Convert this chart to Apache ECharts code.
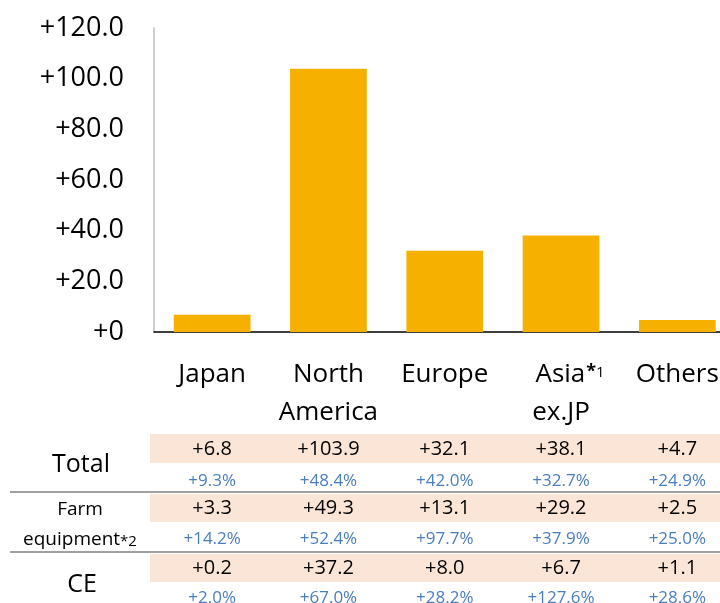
<!DOCTYPE html>
<html>
<head>
<meta charset="utf-8">
<script src="https://cdn.jsdelivr.net/npm/echarts@6/dist/echarts.min.js"></script>
<style>
html,body{margin:0;padding:0;background:#fff;overflow:hidden;width:720px;height:603px;}
#c{width:736px;height:603px;}
</style>
</head>
<body>
<div id="c"></div>
<script>
// ---- data ----
var categories = ['Japan', 'North\nAmerica', 'Europe', 'Asia*1\nex.JP', 'Others'];
var totalValues = [6.8, 103.9, 32.1, 38.1, 4.7];
var totalPct = [9.3, 48.4, 42.0, 32.7, 24.9];
var farmValues = [3.3, 49.3, 13.1, 29.2, 2.5];
var farmPct = [14.2, 52.4, 97.7, 37.9, 25.0];
var ceValues = [0.2, 37.2, 8.0, 6.7, 1.1];
var cePct = [2.0, 67.0, 28.2, 127.6, 28.6];
var yMin = 0, yMax = 120, yStep = 20;

var FONT = 'Open Sans';
var BAR = '#f5b000';
var PINK = '#fbe5d6';
var BLUE = '#4a7dc0';

function fmtVal(v){ return (v >= 0 ? '+' : '') + v.toFixed(1); }
function fmtPct(v){ return (v >= 0 ? '+' : '') + v.toFixed(1) + '%'; }

var chart = echarts.init(document.getElementById('c'), null, {renderer: 'canvas'});

var option = {
  animation: false,
  backgroundColor: '#fff',
  grid: {left: 154, top: 28, right: 0.5, bottom: 271, containLabel: false, outerBoundsMode: 'none'},
  xAxis: {
    type: 'category',
    data: categories,
    axisLine: {show: true, lineStyle: {color: '#000', width: 1.5}},
    axisTick: {show: false},
    axisLabel: {
      interval: 0,
      margin: 24,
      color: '#000',
      fontFamily: FONT,
      fontSize: 26,
      lineHeight: 38,
      hideOverlap: false,
      formatter: function (v) {
        if (v.indexOf('*1') >= 0) {
          var parts = v.split('\n');
          return '{p|' + parts[0].replace('*1', '') + '}{s|*}{t|1}\n{a|' + parts[1] + '}';
        }
        return v.split('\n').map(function (p) { return '{a|' + p + '}'; }).join('\n');
      },
      rich: {
        a: {fontFamily: FONT, fontSize: 26, lineHeight: 38, color: '#000'},
        p: {fontFamily: FONT, fontSize: 26, lineHeight: 38, color: '#000', padding: [0, 0, 0, 18]},
        s: {fontFamily: FONT, fontSize: 18, fontWeight: 'bold', lineHeight: 38, color: '#000', verticalAlign: 'top', padding: [7, 0, 0, 1]},
        t: {fontFamily: FONT, fontSize: 15, lineHeight: 38, color: '#000', verticalAlign: 'top', padding: [9, 0, 0, 0]}
      }
    }
  },
  yAxis: {
    type: 'value',
    min: yMin, max: yMax, interval: yStep,
    axisLine: {show: true, lineStyle: {color: '#bfbfbf', width: 1.5}},
    axisTick: {show: false},
    splitLine: {show: false},
    axisLabel: {
      margin: 30,
      color: '#000',
      fontFamily: FONT,
      fontSize: 27,
      formatter: function (v) { return v === 0 ? '+0' : '+' + v.toFixed(1); }
    }
  },
  series: [{
    type: 'bar',
    data: totalValues,
    barCategoryGap: '34%',
    itemStyle: {color: BAR},
    z: 1
  }]
};
chart.setOption(option);

// ---- table below the chart ----
var rows = [
  {vals: totalValues, pcts: totalPct, bandTop: 434, bandH: 29, valY: 449, pctY: 481},
  {vals: farmValues, pcts: farmPct, bandTop: 494, bandH: 28, valY: 508, pctY: 539},
  {vals: ceValues, pcts: cePct, bandTop: 554, bandH: 28, valY: 568, pctY: 598}
];
var g = [];
rows.forEach(function (r) {
  g.push({type: 'rect', shape: {x: 150, y: r.bandTop, width: 590, height: r.bandH}, style: {fill: PINK}, silent: true, z: 0});
  r.vals.forEach(function (v, i) {
    var x = chart.convertToPixel({xAxisIndex: 0}, i);
    g.push({type: 'text', x: x, y: r.valY, style: {text: fmtVal(v), fill: '#000', font: '20px "' + FONT + '"', textAlign: 'center', textVerticalAlign: 'middle'}, z: 2});
    g.push({type: 'text', x: x, y: r.pctY, style: {text: fmtPct(r.pcts[i]), fill: BLUE, font: '17px "' + FONT + '"', textAlign: 'center', textVerticalAlign: 'middle'}, z: 2});
  });
});
// separators
[492, 552].forEach(function (y) {
  g.push({type: 'line', shape: {x1: 10, y1: y, x2: 740, y2: y}, style: {stroke: '#808080', lineWidth: 1.5}, silent: true});
});
// row titles
g.push({type: 'text', x: 81, y: 465, style: {text: 'Total', fill: '#000', font: '25px "' + FONT + '"', textAlign: 'center', textVerticalAlign: 'middle'}});
g.push({type: 'text', x: 80, y: 510, style: {text: 'Farm', fill: '#000', font: '19px "' + FONT + '"', textAlign: 'center', textVerticalAlign: 'middle'}});
g.push({type: 'text', x: 80, y: 540, style: {
  text: '{a|equipment}{b|*2}', textAlign: 'center', textVerticalAlign: 'middle',
  rich: {a: {fontFamily: FONT, fontSize: 19, fill: '#000'}, b: {fontFamily: FONT, fontSize: 15, fill: '#000', padding: [3, 0, 0, 0]}}
}});
g.push({type: 'text', x: 82, y: 585, style: {text: 'CE', fill: '#000', font: '25px "' + FONT + '"', textAlign: 'center', textVerticalAlign: 'middle'}});

chart.setOption({graphic: g});
</script>
</body>
</html>
